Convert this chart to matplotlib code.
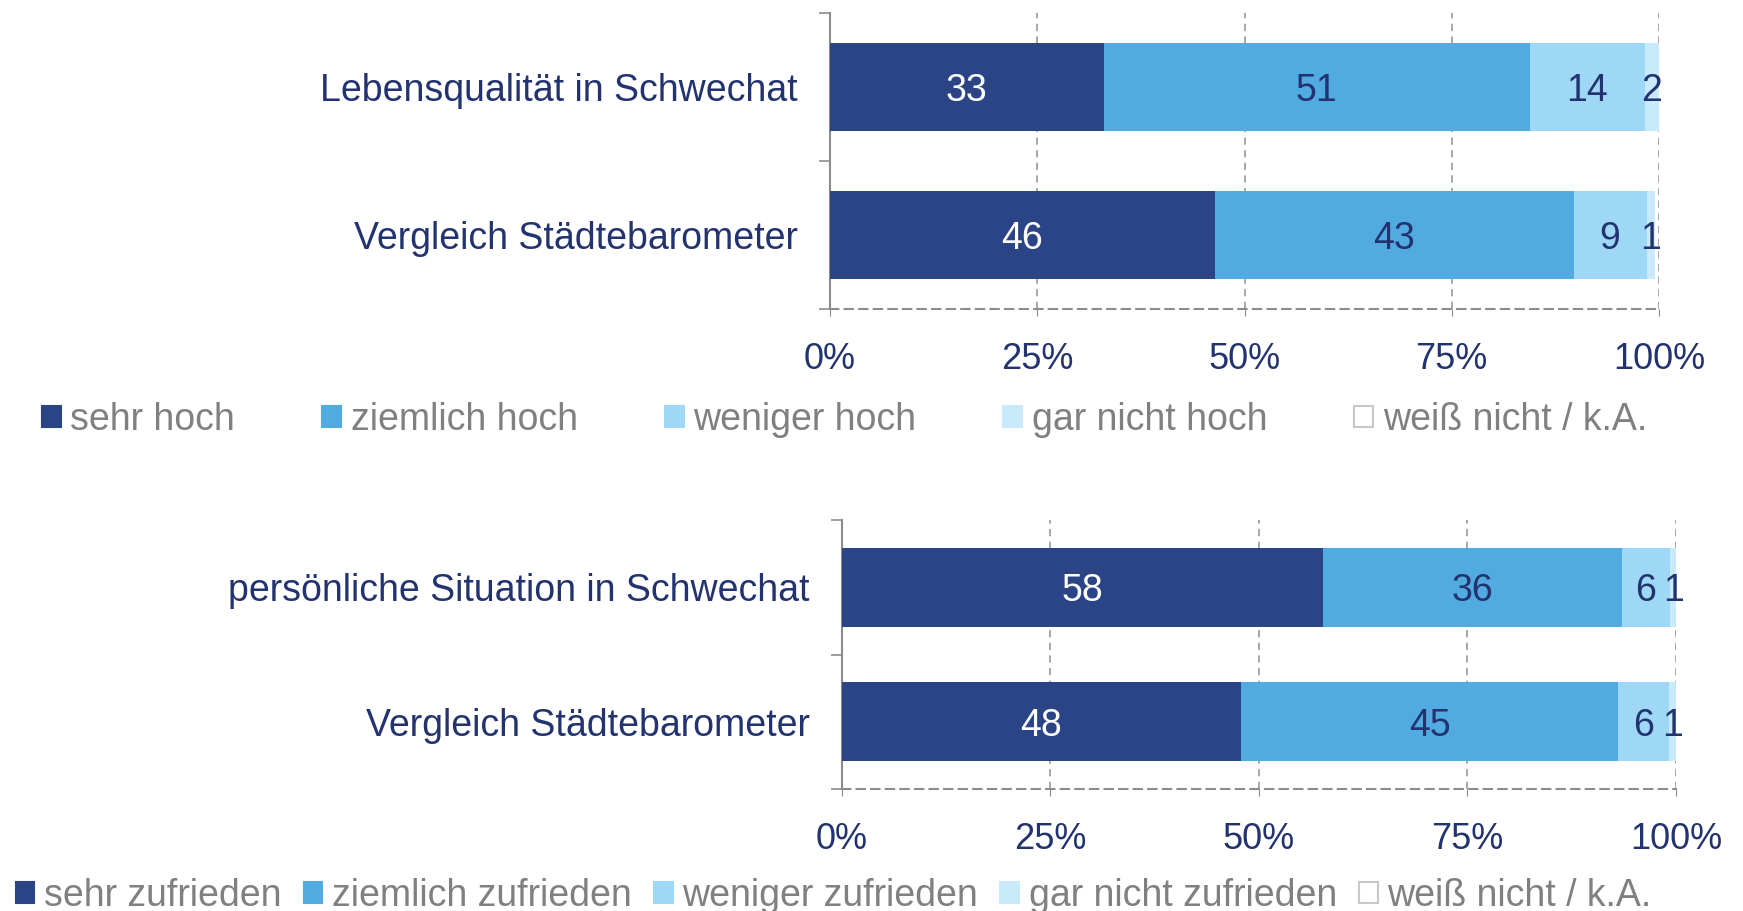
import matplotlib
matplotlib.use("Agg")
import matplotlib.pyplot as plt
from matplotlib.patches import Patch

MAIN = ['Liberation Sans', 'DejaVu Sans']
plt.rcParams['font.family'] = MAIN

# ---- data ----
cats_top = ["Lebensqualität in Schwechat", "Vergleich Städtebarometer"]
series_top = ["sehr hoch", "ziemlich hoch", "weniger hoch", "gar nicht hoch", "weiß nicht / k.A."]
top_sehr = [33.0, 46.4]
top_ziemlich = [51.4, 43.3]
top_weniger = [13.9, 8.8]
top_garnicht = [1.7, 1.0]
top_weiss = [0.0, 0.0]

cats_bot = ["persönliche Situation in Schwechat", "Vergleich Städtebarometer"]
series_bot = ["sehr zufrieden", "ziemlich zufrieden", "weniger zufrieden", "gar nicht zufrieden", "weiß nicht / k.A."]
bot_sehr = [57.7, 47.9]
bot_ziemlich = [35.8, 45.2]
bot_weniger = [5.8, 6.0]
bot_garnicht = [0.7, 0.9]
bot_weiss = [0.0, 0.0]

xticks = [0, 25, 50, 75, 100]
xticklabels = ["0%", "25%", "50%", "75%", "100%"]

colors = ["#2B4486", "#52ABE0", "#9FD8F7", "#C8EAFB", "#FFFFFF"]
label_colors = ["white", "#22336F", "#22336F", "#22336F", "#22336F"]
NAVY = "#22336F"
GRID = "#A0A0A0"
SPINE = "#8C8C8C"

fig = plt.figure(figsize=(17.43, 9.11), dpi=100)


def draw(ax, cats, series_vals):
    y = list(range(len(cats)))
    left = [0.0] * len(cats)
    for i, vals in enumerate(series_vals):
        bars = ax.barh(y, vals, left=left, height=0.59, color=colors[i],
                       edgecolor='none', zorder=3)
        for b, v in zip(bars, vals):
            if round(v) >= 1:
                ax.text(b.get_x() + b.get_width() / 2, b.get_y() + b.get_height() / 2,
                        f"{round(v)}", ha='center', va='center_baseline', fontsize=27,
                        color=label_colors[i], zorder=4)
        left = [l + v for l, v in zip(left, vals)]
    ax.set_xlim(0, 100)
    ax.set_ylim(len(cats) - 0.5, -0.5)
    ax.set_xticks(xticks)
    ax.set_xticklabels(xticklabels, fontsize=26, color=NAVY)
    ax.tick_params(axis='x', length=5, color=SPINE, pad=19)
    ax.set_yticks([-0.5, 0.5, 1.5])
    ax.set_yticklabels([])
    ax.tick_params(axis='y', which='major', length=8, color=SPINE, width=1.2)
    ax.set_yticks(y, minor=True)
    ax.set_yticklabels(cats, minor=True, fontsize=27, color=NAVY)
    ax.tick_params(axis='y', which='minor', length=0, pad=23)
    for x in xticks[1:]:
        ax.axvline(x, color=GRID, linestyle=(0, (4, 3)), linewidth=1.3, zorder=1)
    for s in ['top', 'right']:
        ax.spines[s].set_visible(False)
    ax.spines['left'].set_color(SPINE)
    ax.spines['left'].set_linewidth(1.5)
    ax.spines['bottom'].set_color(SPINE)
    ax.spines['bottom'].set_linestyle((0, (4, 3)))
    ax.spines['bottom'].set_linewidth(1.5)


ax1 = fig.add_axes([0.4762, 0.6608, 0.4756, 0.3249])
draw(ax1, cats_top, [top_sehr, top_ziemlich, top_weniger, top_garnicht, top_weiss])
ax2 = fig.add_axes([0.4828, 0.1339, 0.4788, 0.2953])
draw(ax2, cats_bot, [bot_sehr, bot_ziemlich, bot_weniger, bot_garnicht, bot_weiss])


def legend(labels, y, x, spacing):
    handles = [Patch(facecolor=c, edgecolor=('#C8C8C8' if c == '#FFFFFF' else c), linewidth=1.5)
               for c in colors]
    fig.legend(handles, labels, loc='center left', bbox_to_anchor=(x, y), ncol=5,
               frameon=False, handlelength=0.5, handleheight=0.5, handletextpad=0.25,
               columnspacing=spacing, borderaxespad=0, borderpad=0,
               prop={'family': MAIN, 'size': 27}, labelcolor='#808080')


legend(series_top, 1 - 420 / 911, 38 * 1.1116 / 1743, 2.33)
legend(series_bot, 1 - 896 / 911, 14 * 1.1116 / 1743, 0.6)

fig.savefig("out.png", dpi=100)
